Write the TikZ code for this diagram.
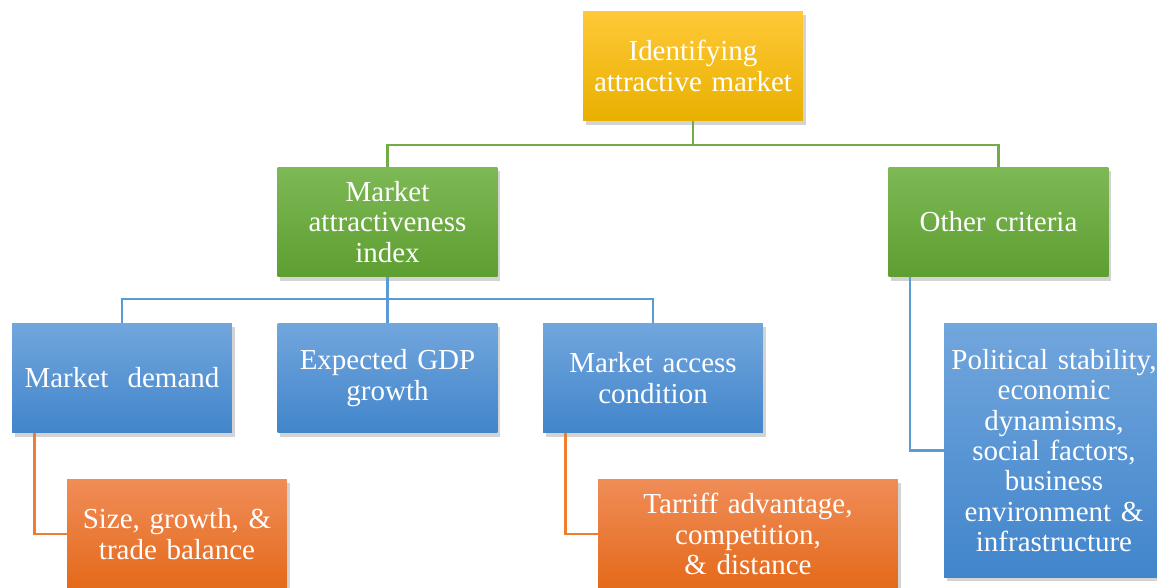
\documentclass[tikz,border=0pt]{standalone}
\usepackage{fontspec}
\setmainfont{Liberation Serif}
\usetikzlibrary{shadows}

\definecolor{goldtop}{HTML}{FFC937}
\definecolor{goldbot}{HTML}{E8B000}
\definecolor{greentop}{HTML}{7DB955}
\definecolor{greenbot}{HTML}{5E9E31}
\definecolor{bluetop}{HTML}{72A6DD}
\definecolor{bluebot}{HTML}{4185CB}
\definecolor{orangetop}{HTML}{F08D58}
\definecolor{orangebot}{HTML}{E4691A}
\definecolor{greenline}{HTML}{70AD47}
\definecolor{blueline}{HTML}{5B9BD5}
\definecolor{orangeline}{HTML}{ED7D31}

\begin{document}
\begin{tikzpicture}[x=0.02cm, y=-0.02cm,
    box/.style={rectangle, inner sep=1pt, align=center, text=white,
        font=\fontsize{16.5}{17.3}\selectfont,
        minimum width=4.4cm, minimum height=2.2cm, text width=4.3cm,
        drop shadow={shadow xshift=1.5pt, shadow yshift=-2pt, opacity=0.35}},
    goldbox/.style={box, top color=goldtop, bottom color=goldbot},
    greenbox/.style={box, top color=greentop, bottom color=greenbot},
    bluebox/.style={box, top color=bluetop, bottom color=bluebot},
    orangebox/.style={box, top color=orangetop, bottom color=orangebot},
    link/.style={line width=1.5pt}]
        % Page frame
        \useasboundingbox (0,0) rectangle (1157,588);

        % Goal at the top
        \node[goldbox] (goal) at (693,66) {Identifying\\attractive market};

        % Second level
        \node[greenbox] (index) at (387.5,222) {Market\\attractiveness\\index};
        \node[greenbox] (other) at (998.5,222) {Other criteria};

        % Components of the index
        \node[bluebox] (demand) at (122,378) {Market~~demand};
        \node[bluebox] (gdp) at (387.5,378) {Expected GDP\\growth};
        \node[bluebox] (access) at (653,378) {Market access\\condition};

        % Details of the other criteria
        \node[bluebox, minimum height=5.1cm] (factors) at (1054,450.5)
            {Political stability,\\economic\\dynamisms,\\social factors,\\business\\environment \&\\infrastructure};

        % Details of demand and access
        \node[orangebox] (size) at (177,534) {Size, growth, \&\\trade balance};
        \node[orangebox, minimum width=6cm, text width=5.9cm] (tariff) at (748,534)
            {Tarriff advantage,\\competition,\\\& distance};

        % Green links
        \coordinate (gbar) at (693,145);
        \draw[link, greenline] (goal.south) -- (gbar) -| (index.north);
        \draw[link, greenline] (gbar) -| (other.north);

        % Blue links
        \coordinate (bbar) at (387.5,299);
        \draw[link, blueline] (index.south) -- (bbar) -| (demand.north);
        \draw[link, blueline] (bbar) -- (gdp.north);
        \draw[link, blueline] (bbar) -| (access.north);
        \draw[link, blueline] (other.south west) ++(22,0) |- (factors.west);

        % Orange links
        \draw[link, orangeline] (demand.south west) ++(23,0) |- (size.west);
        \draw[link, orangeline] (access.south west) ++(23,0) |- (tariff.west);
    \end{tikzpicture}
\end{document}
